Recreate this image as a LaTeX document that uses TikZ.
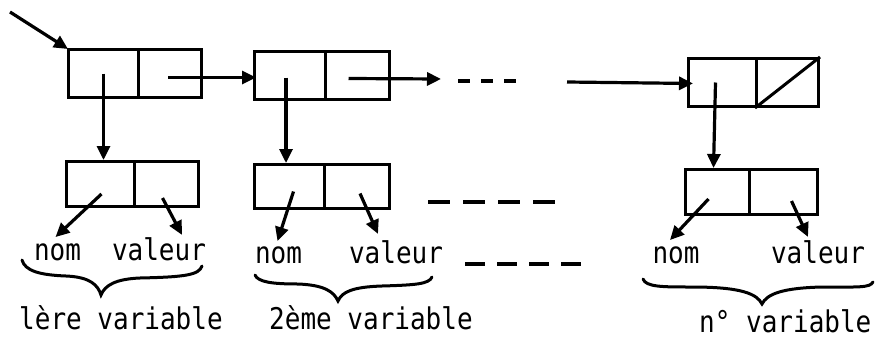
\documentclass[tikz,border=0pt]{standalone}
\usepackage{fontspec}
\newfontfamily\labfont{DejaVu Sans Mono}
\usetikzlibrary{arrows.meta,calc}
\newcommand\stx[1]{\scalebox{1}[1.15]{#1}}
\begin{document}
\begin{tikzpicture}[x=1pt,y=-1pt,
  cell/.style={draw, line width=3pt, minimum height=48pt, inner sep=0pt, anchor=north west},
  lab/.style={font=\labfont\fontsize{26}{31}\selectfont, inner xsep=0pt, inner ysep=6pt, anchor=base},
  ptr/.style={line width=3.2pt, -{Triangle[length=14pt,width=13pt]}},
  dsh/.style={line width=3.4pt, dash pattern=on 22pt off 13pt},
  brc/.style={line width=3pt, line cap=round}]
\path[use as bounding box] (0,0) rectangle (882,340);
% top row
\node[cell, minimum width=70pt] (T1L) at (67,48) {};
\node[cell, minimum width=63pt] (T1R) at (137,48) {};
\node[cell, minimum width=71pt] (T2L) at (253,50) {};
\node[cell, minimum width=64pt] (T2R) at (324,50) {};
\node[cell, minimum width=68pt] (T3L) at (687,57) {};
\node[cell, minimum width=62pt] (T3R) at (755,57) {};
\draw[line width=3pt] (T3R.south west) -- (T3R.north east);
% bottom row
\node[cell, minimum width=68pt, minimum height=45pt] (B1L) at (65,160) {};
\node[cell, minimum width=64pt, minimum height=45pt] (B1R) at (133,160) {};
\node[cell, minimum width=70pt, minimum height=44pt] (B2L) at (253,163) {};
\node[cell, minimum width=65pt, minimum height=44pt] (B2R) at (323,163) {};
\node[cell, minimum width=64pt, minimum height=45pt] (B3L) at (684,168) {};
\node[cell, minimum width=68pt, minimum height=45pt] (B3R) at (748,168) {};
% labels
\node[lab] (nom1) at (57.5,260) {\stx{nom}};
\node[lab] (val1) at (159,260) {\stx{valeur}};
\node[lab] (nom2) at (278.5,263) {\stx{nom}};
\node[lab] (val2) at (396,263) {\stx{valeur}};
\node[lab] (nom3) at (676,263) {\stx{nom}};
\node[lab] (val3) at (818,263) {\stx{valeur}};
\node[lab, anchor=base west] (var1) at (19,329) {\stx{lère variable}};
\node[lab, anchor=base west] (var2) at (269,329) {\stx{2ème variable}};
\node[lab, anchor=base west] (var3) at (699,332) {\stx{n° variable}};
% coordinates
\coordinate (e0) at (10,12);
\coordinate (d1) at (441,79);
\coordinate (d2) at (458,81);
\coordinate (d3) at (527,81);
\coordinate (d4) at (567,82);
\coordinate (m1) at (428,202);
\coordinate (m2) at (555,202);
\coordinate (n1) at (465,264);
\coordinate (n2) at (581,264);
% pointers top
\draw[ptr] (e0) -- ($(T1L.north west)+(1,1)$);
\draw[ptr] (T1L.center) -- (T1L.center |- B1L.north);
\draw[ptr] ($(T1R.center)+(-2,4)$) -- ($(T1R.center -| T2L.west)+(3,4)$);
\draw[ptr] ($(T2L.center)+(-4,2)$) -- ($(T2L.center |- B2L.north)+(-4,0)$);
\draw[ptr] ($(T2R.center)+(-9,3)$) -- (d1);
\draw[dsh, dash pattern=on 12pt off 11pt] (d2) -- (d3);
\draw[ptr] (d4) -- ($(T3L.west)+(6,1)$);
\draw[ptr] ($(T3L.center)+(-7,0)$) -- ($(B3L.north)+(-4,0)$);
\draw[dsh] (m1) -- (m2);
\draw[dsh, dash pattern=on 20pt off 12pt] (n1) -- (n2);
% pointers bottom
\draw[ptr] ($(B1L.center)+(1,10)$) -- ($(nom1.north)+(-2,0)$);
\draw[ptr] ($(B1R.center)+(-4,14)$) -- ($(val1.north)+(23,4)$);
\draw[ptr] ($(B2L.center)+(4,5)$) -- ($(nom2.north)+(-1,1)$);
\draw[ptr] ($(B2R.center)+(3,7)$) -- ($(val2.north)+(-18,0)$);
\draw[ptr] ($(B3L.center)+(-9,7)$) -- ($(nom3.north)+(-6,0)$);
\draw[ptr] ($(B3R.center)+(8,9)$) -- ($(val3.north)+(-10,3)$);
% braces
\draw[brc] (22,260) .. controls (25,271) and (40,275) .. (66,276) .. controls (90,277) and (98,285) .. (101,295) .. controls (105,285) and (116,279) .. (140,278) .. controls (185,277) and (199,275) .. (202,266);
\draw[brc] (255,275) .. controls (258,282) and (272,284) .. (298,284) .. controls (325,285) and (334,292) .. (338,301) .. controls (342,292) and (352,287) .. (382,286) .. controls (416,285) and (429,284) .. (432,277);
\draw[brc] (643,279) .. controls (646,287) and (662,287) .. (692,287) .. controls (742,287) and (757,294) .. (762,304) .. controls (767,294) and (782,288) .. (822,287) .. controls (858,287) and (870,288) .. (873,282);
\end{tikzpicture}
\end{document}
